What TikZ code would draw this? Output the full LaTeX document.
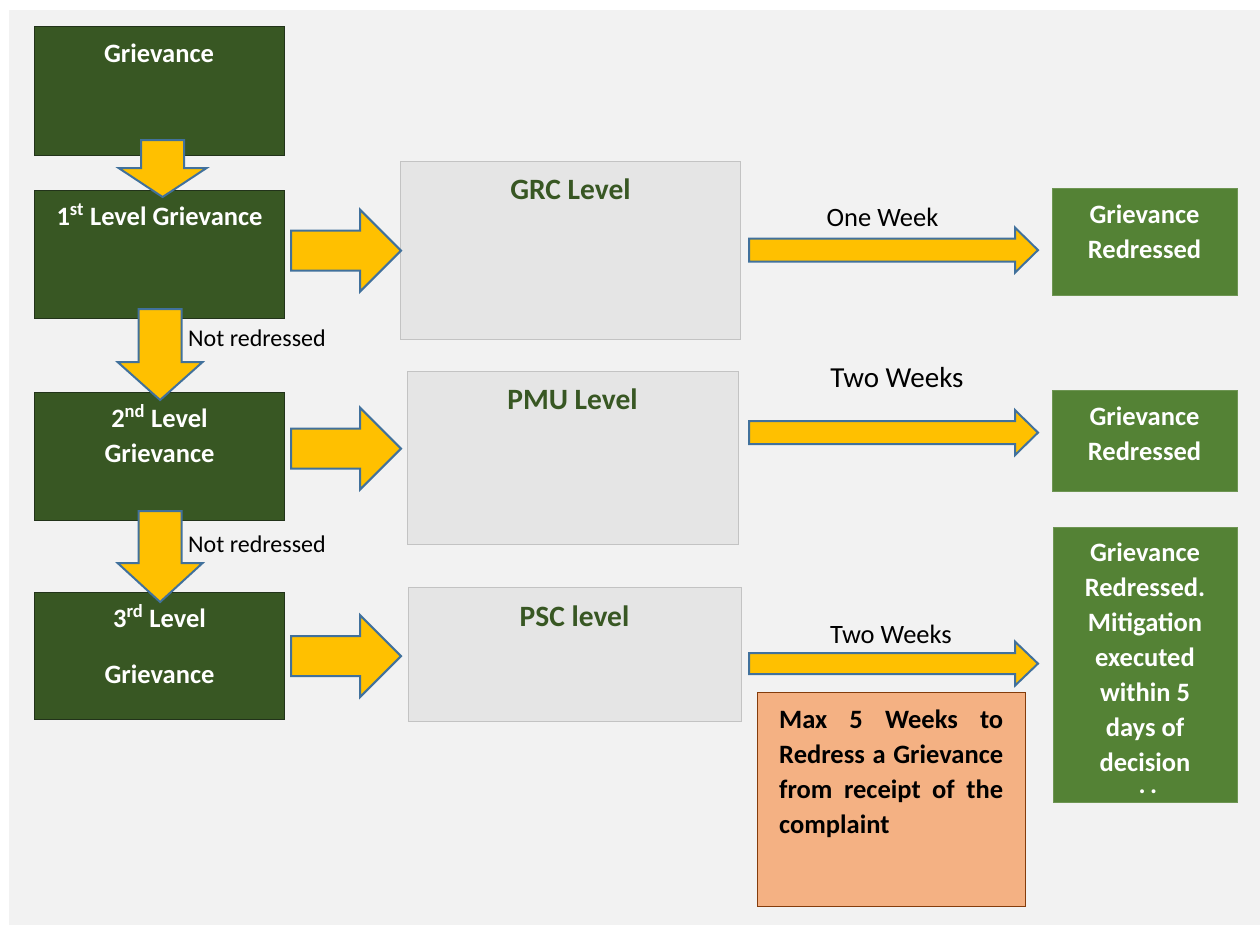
\documentclass[tikz,border=0pt]{standalone}
\usepackage{fontspec}
\setmainfont{Carlito}
\usetikzlibrary{calc}
\definecolor{bgc}{HTML}{F2F2F2}
\definecolor{dkgreen}{HTML}{385723}
\definecolor{dkborder}{HTML}{22331A}
\definecolor{ltgreen}{HTML}{548235}
\definecolor{grayfill}{HTML}{E5E5E5}
\definecolor{grayline}{HTML}{C3C3C3}
\definecolor{arrfill}{HTML}{FFC000}
\definecolor{arrline}{HTML}{41719C}
\definecolor{notefill}{HTML}{F4B183}
\definecolor{noteline}{HTML}{843C0C}
\newcommand{\blockH}[5]{%
  \draw[blockarrow] let \p1=(#1), \p2=(#2) in
   (\x1,\y1+#3pt) -- (\x2-#5pt,\y1+#3pt) -- (\x2-#5pt,\y1+#4pt) -- (\x2,\y1)
   -- (\x2-#5pt,\y1-#4pt) -- (\x2-#5pt,\y1-#3pt) -- (\x1,\y1-#3pt) -- cycle;}
\newcommand{\blockV}[5]{%
  \draw[blockarrow] let \p1=(#1), \p2=(#2) in
   (\x1-#3pt,\y1) -- (\x1-#3pt,\y2+#5pt) -- (\x1-#4pt,\y2+#5pt) -- (\x1,\y2)
   -- (\x1+#4pt,\y2+#5pt) -- (\x1+#3pt,\y2+#5pt) -- (\x1+#3pt,\y1) -- cycle;}
\newcommand{\bigfont}{\fontsize{26.5}{35}\selectfont}
\newcommand{\titlefont}{\fontsize{29.5}{35}\selectfont}
\begin{document}
\begin{tikzpicture}[x=1pt,y=-1pt,
  darkbox/.style={draw=dkborder, line width=1.2pt, fill=dkgreen, inner sep=0pt, anchor=north west},
  graybox/.style={draw=grayline, line width=1.2pt, fill=grayfill, inner sep=0pt, anchor=north west},
  greenbox/.style={draw=ltgreen!85!white, line width=0.8pt, fill=ltgreen, inner sep=0pt, anchor=north west},
  notebox/.style={draw=noteline, line width=1pt, fill=notefill, inner sep=0pt, anchor=north west},
  blockarrow/.style={draw=arrline, fill=arrfill, line width=2pt, line join=miter},
  wtext/.style={text=white, font=\bigfont\bfseries, anchor=base, inner sep=0pt},
  ttext/.style={text=dkgreen, font=\titlefont\bfseries, anchor=base, inner sep=0pt},
  btext/.style={text=black, font=\bigfont\bfseries, anchor=base west, inner sep=0pt},
  ltext/.style={text=black, anchor=base, inner sep=0pt}]
\useasboundingbox (0,0) rectangle (1260,926);
\fill[white] (0,0) rectangle (1260,926);
\fill[bgc] (9,10) rectangle (1260,925);

% boxes
\node[darkbox, minimum width=250pt, minimum height=129pt] (g0) at (34,26) {};
\node[darkbox, minimum width=250pt, minimum height=128pt] (l1) at (34,190) {};
\node[darkbox, minimum width=250pt, minimum height=128pt] (l2) at (34,392) {};
\node[darkbox, minimum width=250pt, minimum height=127pt] (l3) at (34,592) {};
\node[graybox, minimum width=340pt, minimum height=178pt] (grc) at (400,161) {};
\node[graybox, minimum width=331pt, minimum height=173pt] (pmu) at (407,371) {};
\node[graybox, minimum width=333pt, minimum height=134pt] (psc) at (408,587) {};
\node[greenbox, minimum width=185pt, minimum height=107pt] (r1) at (1052,188) {};
\node[greenbox, minimum width=185pt, minimum height=101pt] (r2) at (1052,390) {};
\node[greenbox, minimum width=184pt, minimum height=275pt] (r3) at (1053,527) {};
\node[notebox, minimum width=268pt, minimum height=214pt] (note) at (757,692) {};

% arrow end points
\coordinate (a0s) at ($(g0.south)+(3,-16)$);
\coordinate (a0e) at ($(l1.north)+(3,7)$);
\coordinate (a1s) at ($(l1.south)+(0.5,-10)$);
\coordinate (a1e) at ($(l2.north)+(0.5,8)$);
\coordinate (a2s) at ($(l2.south)+(0.5,-10)$);
\coordinate (a2e) at ($(l3.north)+(0.5,10)$);
\coordinate (h1s) at ($(l1.east)+(6,-4)$);
\coordinate (h1e) at ($(grc.west |- h1s)+(1,0)$);
\coordinate (h2s) at ($(l2.east)+(6,-8)$);
\coordinate (h2e) at ($(pmu.west |- h2s)+(-6,0)$);
\coordinate (h3s) at ($(l3.east)+(6,0)$);
\coordinate (h3e) at ($(psc.west |- h3s)+(-7,0)$);
\coordinate (t1s) at ($(grc.east)+(8,-0.5)$);
\coordinate (t1e) at ($(r1.west |- t1s)+(-14,0)$);
\coordinate (t2s) at ($(pmu.east)+(10,-25.5)$);
\coordinate (t2e) at ($(r2.west |- t2s)+(-14,0)$);
\coordinate (t3s) at ($(psc.east)+(7,9)$);
\coordinate (t3e) at ($(r3.west |- t3s)+(-15,0)$);

% block arrows
\blockV{a0s}{a0e}{21.5}{44}{29}
\blockV{a1s}{a1e}{21.5}{42.5}{38}
\blockV{a2s}{a2e}{21.5}{42.5}{39}
\blockH{h1s}{h1e}{20}{41}{41}
\blockH{h2s}{h2e}{20}{41}{41}
\blockH{h3s}{h3e}{20}{41}{41}
\blockH{t1s}{t1e}{11.5}{22.5}{23}
\blockH{t2s}{t2e}{11.5}{22.5}{23}
\blockH{t3s}{t3e}{10.5}{22}{23}

% texts in dark boxes
\node[wtext] (g0t) at (159,62) {Grievance};
\node[wtext] (l1t) at (159.5,225) {1\textsuperscript{st} Level Grievance};
\node[wtext] (l2a) at (159.5,427) {2\textsuperscript{nd} Level};
\node[wtext] (l2b) at (159.5,462) {Grievance};
\node[wtext] (l3a) at (159.5,627) {3\textsuperscript{rd} Level};
\node[wtext] (l3b) at (159.5,683) {Grievance};

% titles of gray boxes
\node[ttext] (grct) at (570.5,199) {GRC Level};
\node[ttext] (pmut) at (572.5,409) {PMU Level};
\node[ttext] (psct) at (574.5,626) {PSC level};

% labels
\node[ltext, anchor=base west, font=\fontsize{24}{29}\selectfont] (nr1) at (188,346) {Not redressed};
\node[ltext, anchor=base west, font=\fontsize{24}{29}\selectfont] (nr2) at (188,552) {Not redressed};
\node[ltext, font=\fontsize{26.5}{32}\selectfont] (w1) at (882.5,226) {One Week};
\node[ltext, font=\fontsize{29}{35}\selectfont] (w2) at (897,387.5) {Two Weeks};
\node[ltext, font=\fontsize{26.5}{32}\selectfont] (w3) at (891,643) {Two Weeks};

% green boxes texts
\node[wtext] (r1a) at (1144.5,223.5) {Grievance};
\node[wtext] (r1b) at (1144.5,258.5) {Redressed};
\node[wtext] (r2a) at (1144.5,425.5) {Grievance};
\node[wtext] (r2b) at (1144.5,460.5) {Redressed};
\foreach \t [count=\i from 0] in {Grievance,Redressed.,Mitigation,executed,within 5,days of,decision}
  \node[wtext] (r3l\i) at (1145,561.7+35*\i) {\t};
\node[wtext] (r3dots) at (1148,793.5) {.\,.};

% note text
\node[btext] (n1) at (779,728.3) {\makebox[224pt][s]{Max 5 Weeks to}};
\node[btext] (n2) at (779,763.3) {\makebox[224pt][s]{Redress a Grievance}};
\node[btext] (n3) at (779,798.3) {\makebox[224pt][s]{from receipt of the}};
\node[btext] (n4) at (779,833.3) {complaint};
\end{tikzpicture}
\end{document}
